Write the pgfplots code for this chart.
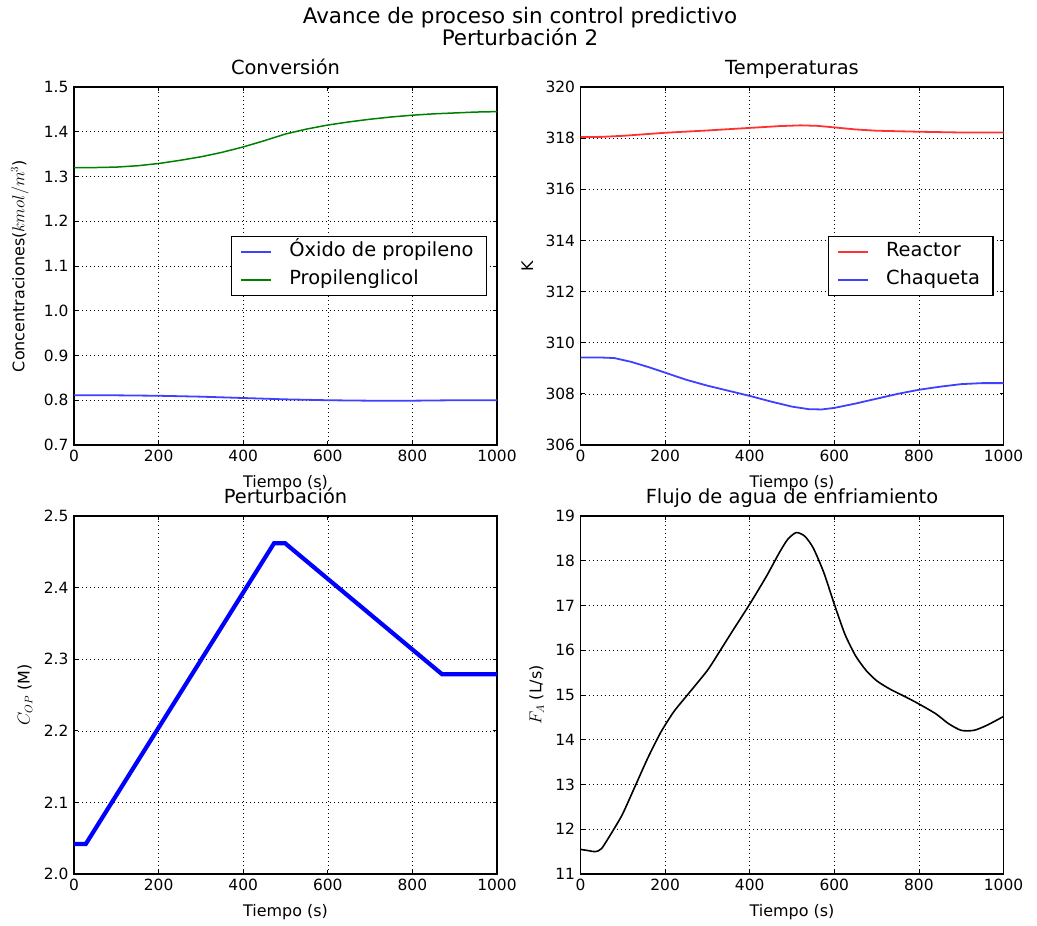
\documentclass[border=0pt]{standalone}
\usepackage{fontspec}
\setmainfont{DejaVu Sans}
\usepackage{pgfplots}
\pgfplotsset{compat=1.18}

\definecolor{mplblue}{RGB}{64,64,255}
\definecolor{mplred}{RGB}{255,50,50}
\definecolor{mplgreen}{RGB}{0,128,0}

\pgfplotsset{
  panel/.style={
    scale only axis, width=423bp, height=358bp,
    xmin=0, xmax=1000, xtick={0,200,...,1000},
    grid=major,
    grid style={black, line width=0.6bp, dash pattern=on 1bp off 3bp},
    axis line style={black, line width=1.1bp},
    major tick style={black, line width=0.8bp}, major tick length=4bp,
    tick label style={font=\fontsize{15.5}{18}\selectfont},
    xticklabel style={yshift=-2bp}, yticklabel style={xshift=-2bp},
    /pgf/number format/assume math mode=true,
    /pgf/number format/1000 sep={},
    label style={font=\fontsize{16}{19}\selectfont},
    xlabel style={at={(rel axis cs:0.5,-0.106)}, anchor=center},
    title style={font=\fontsize{19.5}{23}\selectfont, at={(rel axis cs:0.5,1)}, anchor=base, yshift=7bp},
    xlabel={Tiempo (s)},
    legend cell align=left,
    legend image code/.code={\draw[#1] (0bp,0bp) -- (30bp,0bp);},
    legend style={at={(rel axis cs:1,0.5)}, anchor=east, xshift=-10bp,
      draw=black, line width=1.1bp, fill=white,
      font=\fontsize{19.5}{23}\selectfont,
      inner xsep=9bp, inner ysep=4bp, row sep=6bp, column sep=13bp,
      nodes={inner xsep=4bp, inner ysep=2bp, text height=14bp, text depth=4.5bp}},
  },
}

\begin{document}
\begin{tikzpicture}
\useasboundingbox (0,0) rectangle (1037bp,926bp);

% titulo general
\node[anchor=base, font=\fontsize{21.5}{25}\selectfont] at (520bp,902bp) {Avance de proceso sin control predictivo};
\node[anchor=base, font=\fontsize{21.5}{25}\selectfont] at (520bp,880bp) {Perturbación 2};

% Conversion
\begin{axis}[panel, at={(74bp,481bp)}, anchor=south west,
  title={Conversión},
  ymin=0.7, ymax=1.5, ytick={0.7,0.8,...,1.51},
  yticklabel style={/pgf/number format/.cd, fixed, fixed zerofill, precision=1},
  ylabel={Concentraciones($kmol/m^3$)},
  ylabel style={at={(rel axis cs:-0.1277,0.5)}, anchor=center},
]
  \addplot[color=mplblue, line width=1.8bp] coordinates {
    (0,0.811) (100,0.811) (200,0.810) (300,0.808) (400,0.805) (500,0.802)
    (600,0.800) (700,0.799) (800,0.799) (900,0.800) (1000,0.800)
  };
  \addlegendentry{Óxido de propileno}
  \addplot[color=mplgreen, line width=1.5bp] coordinates {
    (0,1.320) (50,1.320) (100,1.321) (150,1.324) (200,1.329) (250,1.336)
    (300,1.344) (350,1.354) (400,1.366) (450,1.380) (500,1.395) (550,1.406)
    (600,1.415) (650,1.422) (700,1.428) (750,1.433) (800,1.437) (850,1.440)
    (900,1.442) (950,1.444) (1000,1.445)
  };
  \addlegendentry{Propilenglicol}
\end{axis}

% Temperaturas
\begin{axis}[panel, at={(580.5bp,481bp)}, anchor=south west,
  title={Temperaturas},
  ymin=306, ymax=320, ytick={306,308,...,320},
  ylabel={K},
  ylabel style={at={(rel axis cs:-0.126,0.5)}, anchor=center},
]
  \addplot[color=mplred, line width=1.8bp] coordinates {
    (0,318.04) (50,318.05) (100,318.09) (200,318.21) (300,318.30) (400,318.40)
    (470,318.47) (520,318.50) (560,318.48) (600,318.42) (650,318.34)
    (700,318.29) (800,318.25) (900,318.22) (1000,318.22)
  };
  \addlegendentry{Reactor}
  \addplot[color=mplblue, line width=1.8bp] coordinates {
    (0,309.42) (50,309.42) (80,309.40) (120,309.25) (160,309.05) (200,308.83)
    (250,308.55) (300,308.32) (350,308.12) (400,307.92) (450,307.70)
    (500,307.50) (540,307.40) (570,307.39) (600,307.45) (650,307.62)
    (700,307.81) (750,308.00) (800,308.16) (850,308.28) (900,308.38)
    (950,308.42) (1000,308.42)
  };
  \addlegendentry{Chaqueta}
\end{axis}

% Perturbacion
\begin{axis}[panel, at={(74bp,52bp)}, anchor=south west,
  title={Perturbación},
  ymin=2.0, ymax=2.5, ytick={2.0,2.1,...,2.51},
  yticklabel style={/pgf/number format/.cd, fixed, fixed zerofill, precision=1},
  ylabel={$C_{OP}$ (M)},
  ylabel style={at={(rel axis cs:-0.116,0.5)}, anchor=center},
]
  \addplot[color=blue, line width=4.2bp] coordinates {
    (0,2.042) (28,2.042) (473,2.462) (499,2.462) (870,2.279) (1000,2.279)
  };
\end{axis}

% Flujo de agua
\begin{axis}[panel, at={(580.5bp,52bp)}, anchor=south west,
  title={Flujo de agua de enfriamiento},
  ymin=11, ymax=19, ytick={11,12,...,19},
  ylabel={$F_A$ (L/s)},
  ylabel style={at={(rel axis cs:-0.104,0.5)}, anchor=center},
]
  \addplot[color=black, line width=1.6bp, smooth, tension=0.4] coordinates {
    (0,11.55) (20,11.52) (35,11.50) (50,11.57) (80,12.02) (100,12.35)
    (130,12.98) (160,13.61) (190,14.17) (220,14.62) (250,14.97) (300,15.55)
    (330,15.99) (360,16.44) (400,17.03) (440,17.66) (470,18.18) (490,18.48)
    (510,18.63) (530,18.55) (550,18.29) (575,17.74) (600,17.03) (625,16.36)
    (650,15.88) (675,15.55) (700,15.32) (730,15.14) (770,14.95) (800,14.80)
    (840,14.58) (870,14.36) (900,14.21) (930,14.21) (960,14.32) (1000,14.52)
  };
\end{axis}
\end{tikzpicture}
\end{document}
